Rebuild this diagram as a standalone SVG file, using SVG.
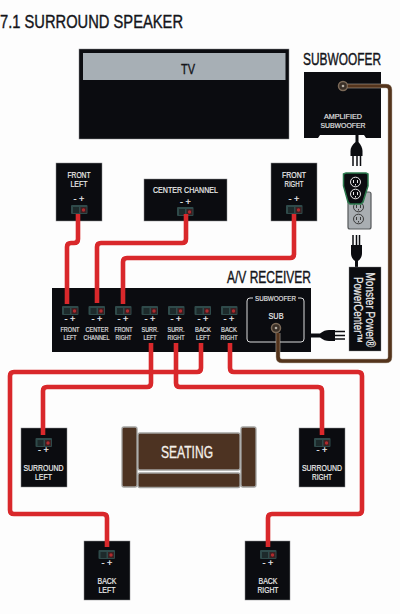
<svg xmlns="http://www.w3.org/2000/svg" xmlns:xlink="http://www.w3.org/1999/xlink" width="400" height="614" viewBox="0 0 400 614">
<style>
text{font-family:"Liberation Sans Narrow","Liberation Sans",Arial,sans-serif;text-anchor:middle}
.box{fill:#0b0c10;stroke:#8a8c8e;stroke-width:.5}
.t{fill:#ececec;font-size:8.5px;stroke:#ececec;stroke-width:.2}
.s{fill:#e6e6e6;font-size:7.5px;stroke:#e6e6e6;stroke-width:.15}
.h{fill:#14151a;stroke:#14151a;stroke-width:.4}
.pm{fill:#f0f0f0;font-size:9px;stroke:#f0f0f0;stroke-width:.2}
.red{fill:none;stroke:#d9282b;stroke-width:4.6;stroke-linejoin:round}
.brownU{fill:none;stroke:#c4bcb2;stroke-width:4.6}
.brown{fill:none;stroke:#54341c;stroke-width:3.6}
.sofa{fill:#4d3322;stroke:#a2a2a0;stroke-width:1.3}
.blk{fill:#0b0c10}
.prong{stroke:#0b0c10;stroke-width:1.5;fill:none}
</style>
<defs>
<g id="term">
<rect x="0" y="0" width="16.5" height="9" rx="1" fill="#2f4a4a"/>
<rect x="2" y="2" width="6" height="6" fill="#1d2a2b"/>
<rect x="9.5" y="2" width="6" height="6" fill="#3a2022"/>
<circle cx="12.5" cy="5" r="1.7" fill="#b02a2e"/>
</g>
<g id="outlet">
<ellipse cx="0" cy="0" rx="5" ry="4.8" fill="none" stroke="#e8e8e8" stroke-width="1"/>
<path d="M-2-2v3M2-2v3M0 2v1.500" stroke="#e8e8e8" stroke-width="1" fill="none"/>
</g>
<g id="outletG">
<ellipse cx="0" cy="0" rx="5" ry="4.8" fill="none" stroke="#3a3a3a" stroke-width="1"/>
<path d="M-2-2v3M2-2v3M0 2v1.500" stroke="#3a3a3a" stroke-width="1" fill="none"/>
</g>
</defs>
<rect width="400" height="614" fill="#fdfdfd"/>
<text class="h" x="91.500" y="28" font-size="18" textLength="183" lengthAdjust="spacingAndGlyphs">7.1 SURROUND SPEAKER</text>

<g id="tv">
<rect x="79" y="49" width="210" height="90" class="box"/>
<rect x="83" y="53" width="202.500" height="27" fill="#a7afb5"/>
<text class="h" x="188" y="74" font-size="15" textLength="14" lengthAdjust="spacingAndGlyphs">TV</text>
</g>

<g id="subwoofer">
<text class="h" x="342" y="65" font-size="16" textLength="78" lengthAdjust="spacingAndGlyphs">SUBWOOFER</text>
<path class="blk" d="M304 72H381V138H366L364 135H320L318 138H304Z"/>
<circle cx="343" cy="86" r="4.500" fill="#3a3028" stroke="#7c6a58" stroke-width="1.500"/>
<circle cx="343" cy="86" r="1.300" fill="#b8b0a6"/>
<text class="s" x="343" y="119" textLength="38" lengthAdjust="spacingAndGlyphs">AMPLIFIED</text>
<text class="s" x="343" y="128" textLength="45" lengthAdjust="spacingAndGlyphs">SUBWOOFER</text>
</g>

<g id="plug-subwoofer">
<path class="blk" d="M355.500 133H358.500V142C361 145 362.500 148 362.500 151V156H350.500V151C350.500 148 352 145 355.500 142Z"/>
<path class="prong" d="M353 156V166M357 156V166M360.500 156V166"/>
</g>

<g id="wall-outlet">
<rect x="348" y="192" width="23" height="37" rx="2" fill="#a9aeb2" stroke="#55585a" stroke-width="1.200"/>
<use xlink:href="#outletG" href="#outletG" x="358.500" y="207"/>
<use xlink:href="#outletG" href="#outletG" x="358.500" y="219"/>
<path d="M343.500 174L346 173H366L368 174V186L363 202L361 204H350L348 202L343.500 186Z" fill="#0b0c10" stroke="#2c7a4e" stroke-width="1.500"/>
<use xlink:href="#outlet" href="#outlet" x="355.500" y="182"/>
<use xlink:href="#outlet" href="#outlet" x="355.500" y="194"/>
</g>

<g id="plug-powercenter">
<path class="blk" d="M355 267H358V261C361 259 362 256 362 253V245H351V253C351 256 352 259 355 261Z"/>
<path class="prong" d="M353 245V235M356.500 245V235M359.500 245V235"/>
</g>

<g id="power-center">
<rect x="349" y="267" width="32" height="84" class="blk" stroke="#8a8c8e" stroke-width=".4"/>
<text transform="translate(366 310) rotate(90)" fill="#eee" stroke="#eee" stroke-width=".2" font-size="12" x="0" y="0" textLength="75" lengthAdjust="spacingAndGlyphs">Monster Power®</text>
<text transform="translate(354 310) rotate(90)" fill="#eee" stroke="#eee" stroke-width=".2" font-size="12" x="0" y="0" textLength="66" lengthAdjust="spacingAndGlyphs">PowerCenter™</text>
</g>

<g id="front-left">
<rect x="56" y="163" width="46" height="58" class="box"/>
<text class="t" x="79" y="178" textLength="23" lengthAdjust="spacingAndGlyphs">FRONT</text>
<text class="t" x="79" y="187" textLength="17" lengthAdjust="spacingAndGlyphs">LEFT</text>
<text class="pm" x="79" y="202">- +</text>
<use xlink:href="#term" href="#term" x="71" y="205"/>
</g>
<g id="center-channel">
<rect x="144" y="179" width="83" height="42" class="box"/>
<text class="t" x="185.500" y="193" textLength="65" lengthAdjust="spacingAndGlyphs">CENTER CHANNEL</text>
<text class="pm" x="185.500" y="205">- +</text>
<use xlink:href="#term" href="#term" x="177" y="207"/>
</g>
<g id="front-right">
<rect x="271" y="163" width="46" height="58" class="box"/>
<text class="t" x="294" y="178" textLength="24" lengthAdjust="spacingAndGlyphs">FRONT</text>
<text class="t" x="294" y="187" textLength="19" lengthAdjust="spacingAndGlyphs">RIGHT</text>
<text class="pm" x="294" y="202">- +</text>
<use xlink:href="#term" href="#term" x="286" y="205"/>
</g>

<g id="receiver">
<text class="h" x="269" y="283" font-size="17" textLength="84" lengthAdjust="spacingAndGlyphs">A/V RECEIVER</text>
<rect x="52" y="288" width="259" height="64" class="blk"/>
<use xlink:href="#term" href="#term" x="62" y="306"/>
<use xlink:href="#term" href="#term" x="88.500" y="306"/>
<use xlink:href="#term" href="#term" x="115" y="306"/>
<use xlink:href="#term" href="#term" x="141.500" y="306"/>
<use xlink:href="#term" href="#term" x="168" y="306"/>
<use xlink:href="#term" href="#term" x="194.500" y="306"/>
<use xlink:href="#term" href="#term" x="221" y="306"/>
<text class="pm" x="70" y="322">- +</text>
<text class="pm" x="97" y="322">- +</text>
<text class="pm" x="123" y="322">- +</text>
<text class="pm" x="150" y="322">- +</text>
<text class="pm" x="176" y="322">- +</text>
<text class="pm" x="203" y="322">- +</text>
<text class="pm" x="229" y="322">- +</text>
<text class="s" x="70" y="332" textLength="19" lengthAdjust="spacingAndGlyphs">FRONT</text>
<text class="s" x="70" y="339.500" textLength="13" lengthAdjust="spacingAndGlyphs">LEFT</text>
<text class="s" x="97" y="332" textLength="23" lengthAdjust="spacingAndGlyphs">CENTER</text>
<text class="s" x="96.500" y="339.500" textLength="26" lengthAdjust="spacingAndGlyphs">CHANNEL</text>
<text class="s" x="123.500" y="332" textLength="18" lengthAdjust="spacingAndGlyphs">FRONT</text>
<text class="s" x="123.500" y="339.500" textLength="16" lengthAdjust="spacingAndGlyphs">RIGHT</text>
<text class="s" x="150" y="332" textLength="17" lengthAdjust="spacingAndGlyphs">SURR.</text>
<text class="s" x="150" y="339.500" textLength="13" lengthAdjust="spacingAndGlyphs">LEFT</text>
<text class="s" x="176" y="332" textLength="17" lengthAdjust="spacingAndGlyphs">SURR.</text>
<text class="s" x="176" y="339.500" textLength="17" lengthAdjust="spacingAndGlyphs">RIGHT</text>
<text class="s" x="203" y="332" textLength="16" lengthAdjust="spacingAndGlyphs">BACK</text>
<text class="s" x="203" y="339.500" textLength="14" lengthAdjust="spacingAndGlyphs">LEFT</text>
<text class="s" x="229" y="332" textLength="16" lengthAdjust="spacingAndGlyphs">BACK</text>
<text class="s" x="229" y="339.500" textLength="17" lengthAdjust="spacingAndGlyphs">RIGHT</text>
<path d="M253 298H250Q247 298 247 301V339Q247 342 250 342H301Q304 342 304 339V301Q304 298 301 298H298" fill="none" stroke="#dcdcdc" stroke-width="1"/>
<text class="s" x="275.500" y="300.500" textLength="41" lengthAdjust="spacingAndGlyphs">SUBWOOFER</text>
<text class="t" x="276" y="319" textLength="15" lengthAdjust="spacingAndGlyphs">SUB</text>
<circle cx="276" cy="328" r="4.500" fill="#3a3028" stroke="#7c6a58" stroke-width="1.500"/>
<circle cx="276" cy="328" r="1.300" fill="#b8b0a6"/>
</g>

<g id="plug-receiver">
<path class="blk" d="M311 333.500H320C323 331 326 330 329 330H335V341H329C326 341 323 340 320 337.500H311Z"/>
<path class="prong" d="M335 331.500H345M335 335.500H345M335 339H345"/>
</g>

<g id="seating">
<rect x="122" y="427" width="15" height="60" rx="2" class="sofa"/>
<rect x="241" y="427" width="15" height="60" rx="2" class="sofa"/>
<rect x="138" y="433" width="102" height="37" rx="2" class="sofa"/>
<rect x="138" y="473" width="102" height="14.500" rx="2" class="sofa"/>
<text x="187" y="458" fill="#f4f0ea" stroke="#f4f0ea" stroke-width=".3" font-size="16" textLength="52" lengthAdjust="spacingAndGlyphs">SEATING</text>
</g>

<g id="surround-left">
<rect x="21" y="428" width="46" height="59" class="box"/>
<use xlink:href="#term" href="#term" x="35.500" y="438"/>
<text class="pm" x="43.500" y="453">- +</text>
<text class="t" x="43.500" y="471" textLength="40" lengthAdjust="spacingAndGlyphs">SURROUND</text>
<text class="t" x="43.500" y="480" textLength="17" lengthAdjust="spacingAndGlyphs">LEFT</text>
</g>
<g id="surround-right">
<rect x="299" y="428" width="46" height="59" class="box"/>
<use xlink:href="#term" href="#term" x="314" y="438"/>
<text class="pm" x="322" y="453">- +</text>
<text class="t" x="322" y="471" textLength="40" lengthAdjust="spacingAndGlyphs">SURROUND</text>
<text class="t" x="322" y="480" textLength="20" lengthAdjust="spacingAndGlyphs">RIGHT</text>
</g>
<g id="back-left">
<rect x="84" y="541" width="46" height="59" class="box"/>
<use xlink:href="#term" href="#term" x="98.500" y="550"/>
<text class="pm" x="107" y="566">- +</text>
<text class="t" x="107" y="584" textLength="19" lengthAdjust="spacingAndGlyphs">BACK</text>
<text class="t" x="107" y="593" textLength="17" lengthAdjust="spacingAndGlyphs">LEFT</text>
</g>
<g id="back-right">
<rect x="245" y="541" width="45" height="59" class="box"/>
<use xlink:href="#term" href="#term" x="260" y="550"/>
<text class="pm" x="268" y="566">- +</text>
<text class="t" x="268" y="584" textLength="19" lengthAdjust="spacingAndGlyphs">BACK</text>
<text class="t" x="268" y="593" textLength="21" lengthAdjust="spacingAndGlyphs">RIGHT</text>
</g>

<g id="connectors">
<path class="brownU" d="M347.500 86H386Q390 86 390 90V357Q390 361 386 361H282Q278 361 278 357V333"/>
<path class="brown" d="M347.500 86H386Q390 86 390 90V357Q390 361 386 361H282Q278 361 278 357V333"/>
<path class="red" d="M78 214V239Q78 243 74 243H71Q67 243 67 247V304"/>
<path class="red" d="M186 214V239Q186 243 182 243H101Q97 243 97 247V303"/>
<path class="red" d="M294 214V254Q294 258 290 258H127Q123 258 123 262V304"/>
<path class="red" d="M201 343V368Q201 372 197 372H14Q10 372 10 376V510Q10 514 14 514H103Q107 514 107 518V547"/>
<path class="red" d="M151 343V383Q151 387 147 387H47Q43 387 43 391V435"/>
<path class="red" d="M176 343V383Q176 387 180 387H318Q322 387 322 391V435"/>
<path class="red" d="M230 343V368Q230 372 234 372H358Q362 372 362 376V510Q362 514 358 514H272Q268 514 268 518V547"/>
</g>
</svg>
